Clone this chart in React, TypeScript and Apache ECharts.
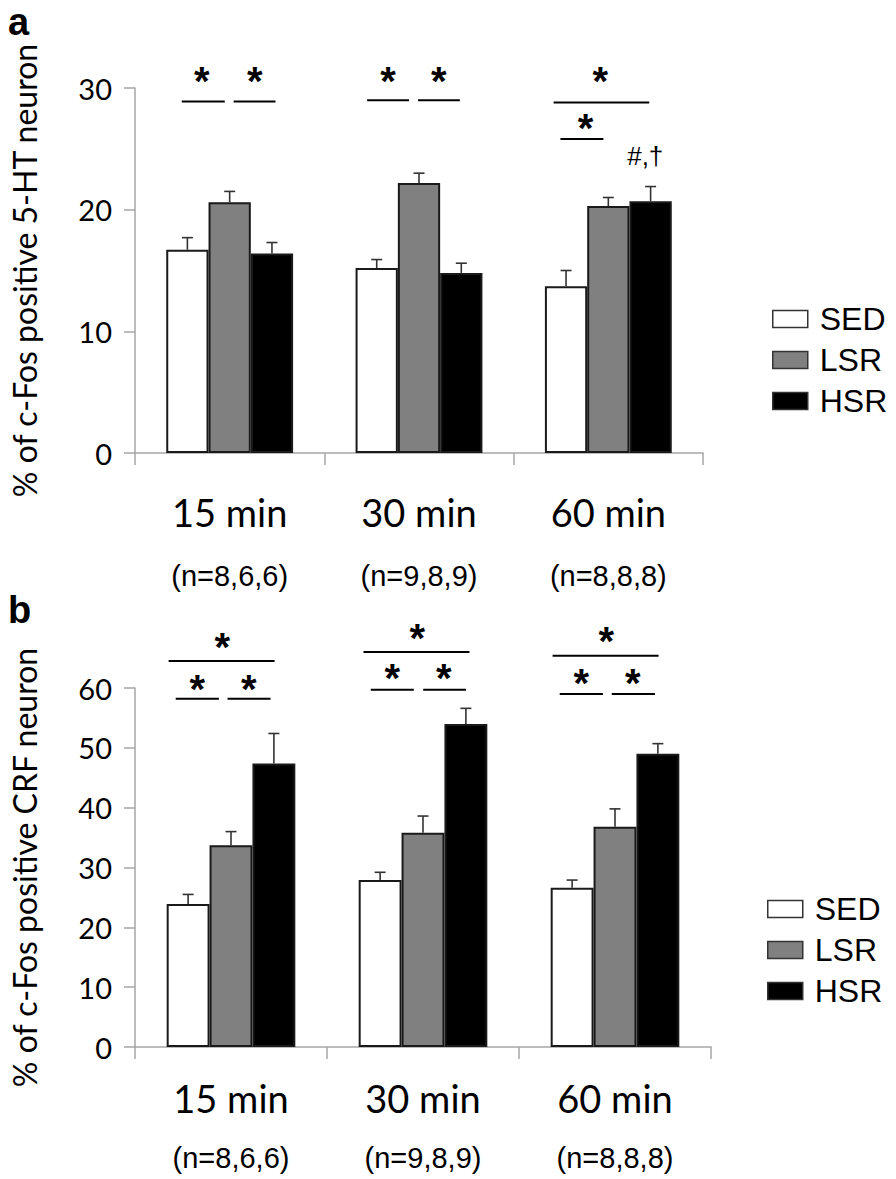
import React, { useEffect, useRef } from "react";
import * as echarts from "echarts";

const categories = ["15 min", "30 min", "60 min"];
const nLabels = ["(n=8,6,6)", "(n=9,8,9)", "(n=8,8,8)"];
const groups = ["SED", "LSR", "HSR"];

// panel a: % of c-Fos positive 5-HT neuron
const aSED = [16.7, 15.2, 13.7];
const aSEDErr = [1.0, 0.7, 1.3];
const aLSR = [20.6, 22.2, 20.3];
const aLSRErr = [0.9, 0.8, 0.7];
const aHSR = [16.4, 14.8, 20.7];
const aHSRErr = [0.9, 0.8, 1.2];

// panel b: % of c-Fos positive CRF neuron
const bSED = [23.9, 27.9, 26.6];
const bSEDErr = [1.6, 1.3, 1.3];
const bLSR = [33.7, 35.8, 36.8];
const bLSRErr = [2.3, 2.8, 3.0];
const bHSR = [47.4, 54.0, 49.0];
const bHSRErr = [5.0, 2.6, 1.7];

const aTicks = { min: 0, max: 30, interval: 10 };
const bTicks = { min: 0, max: 60, interval: 10 };

// significance brackets: [category, xStart (band fraction), xEnd, y]
const aSigLines = [
  [0, -0.253, -0.026, 28.9],
  [0, 0.021, 0.242, 28.9],
  [1, -0.274, -0.053, 29.0],
  [1, -0.005, 0.216, 29.0],
  [2, -0.289, 0.216, 28.8],
  [2, -0.253, -0.026, 25.8],
];
const aStars = [
  [0, -0.147, 31.1],
  [0, 0.132, 31.1],
  [1, -0.163, 31.1],
  [1, 0.105, 31.1],
  [2, -0.042, 31.1],
  [2, -0.121, 27.2],
];
const aMarks = [[2, 0.195, 24.4]];
const aMarkText = "#,†";

const bSigLines = [
  [0, -0.325, 0.227, 64.5],
  [0, -0.288, -0.063, 58.2],
  [0, -0.018, 0.206, 58.2],
  [1, -0.31, 0.242, 66.0],
  [1, -0.272, -0.048, 59.7],
  [1, 0.001, 0.224, 59.7],
  [2, -0.325, 0.227, 65.4],
  [2, -0.288, -0.063, 59.0],
  [2, -0.017, 0.208, 59.0],
];
const bStars = [
  [0, -0.046, 67.9],
  [0, -0.175, 60.9],
  [0, 0.092, 60.9],
  [1, -0.03, 69.4],
  [1, -0.16, 62.6],
  [1, 0.108, 62.6],
  [2, -0.046, 68.9],
  [2, -0.175, 61.8],
  [2, 0.092, 61.8],
];

const COLORS = ["#ffffff", "#808080", "#000000"];
const AXIS_COLOR = "#a6a6a6";
const BAR_GAP = 0.33;
const STAR_DY = 6;

function errData(means: number[][], errs: number[][]) {
  const out: number[][] = [];
  means.forEach((m, g) => m.forEach((v, c) => out.push([c, g, v, v + errs[g][c]])));
  return out;
}

function errRender(params: any, api: any) {
  const c = api.value(0);
  const g = api.value(1);
  const m = api.value(2);
  const t = api.value(3);
  const bw = api.size([1, 0])[0];
  const p0 = api.coord([c, m]);
  const p1 = api.coord([c, t]);
  const x = p0[0] + (g - 1) * bw * ((1 - BAR_GAP) / 3);
  const st = { stroke: "#333", lineWidth: 1.6 };
  return {
    type: "group",
    children: [
      { type: "line", shape: { x1: x, y1: p0[1], x2: x, y2: p1[1] }, style: st },
      { type: "line", shape: { x1: x - 5.5, y1: p1[1], x2: x + 5.5, y2: p1[1] }, style: st },
    ],
  };
}

function lineRender(params: any, api: any) {
  const c = api.value(0);
  const bw = api.size([1, 0])[0];
  const p = api.coord([c, api.value(3)]);
  return {
    type: "line",
    shape: { x1: p[0] + api.value(1) * bw, y1: p[1], x2: p[0] + api.value(2) * bw, y2: p[1] },
    style: { stroke: "#000", lineWidth: 2 },
  };
}

function textRender(text: string, font: string, dy: number) {
  return (params: any, api: any) => {
    const c = api.value(0);
    const bw = api.size([1, 0])[0];
    const p = api.coord([c, api.value(2)]);
    return {
      type: "text",
      x: p[0] + api.value(1) * bw,
      y: p[1] + dy,
      style: { text, font, fill: "#000", textAlign: "center", textVerticalAlign: "middle" },
    };
  };
}

function panelSeries(idx: number, means: number[][], errs: number[][], lines: number[][], stars: number[][]) {
  const s: any[] = groups.map((name, g) => ({
    type: "bar",
    name,
    xAxisIndex: idx,
    yAxisIndex: idx,
    data: means[g],
    barGap: "0%",
    barCategoryGap: BAR_GAP * 100 + "%",
    itemStyle: { color: COLORS[g], borderColor: "#1a1a1a", borderWidth: 2 },
    z: 2,
  }));
  s.push({
    type: "custom",
    xAxisIndex: idx,
    yAxisIndex: idx,
    data: errData(means, errs),
    encode: { x: 0, y: 3 },
    renderItem: errRender,
    clip: false,
    z: 3,
  });
  s.push({
    type: "custom",
    xAxisIndex: idx,
    yAxisIndex: idx,
    data: lines,
    encode: { x: 0, y: 3 },
    renderItem: lineRender,
    clip: false,
    z: 4,
  });
  s.push({
    type: "custom",
    xAxisIndex: idx,
    yAxisIndex: idx,
    data: stars,
    encode: { x: 0, y: 2 },
    renderItem: textRender("*", "bold 40px 'Liberation Sans'", STAR_DY),
    clip: false,
    z: 4,
  });
  return s;
}

const App: React.FC = () => {
  const ref = useRef<HTMLDivElement>(null);
  useEffect(() => {
    if (!ref.current) return;
    const chart = echarts.init(ref.current, undefined, { renderer: "svg" });

    const xAxisBase = (margin: number, lh: number) => ({
      type: "category",
      data: categories,
      axisLine: { lineStyle: { color: AXIS_COLOR, width: 1.5 } },
      axisTick: { show: true, length: 12, interval: 0, lineStyle: { color: AXIS_COLOR, width: 1.5 } },
      axisLabel: {
        interval: 0,
        margin,
        formatter: (v: string, i: number) => `{a|${v}}\n{b|${nLabels[i]}}`,
        rich: {
          a: { fontSize: 38, fontFamily: "Lato", color: "#000", lineHeight: lh },
          b: { fontSize: 29, fontFamily: "'Liberation Sans Narrow', 'Liberation Sans'", color: "#000", lineHeight: lh },
        },
      },
    });
    const yAxisBase = (t: any, name: string) => ({
      type: "value",
      min: t.min,
      max: t.max,
      interval: t.interval,
      name,
      nameLocation: "middle",
      nameGap: 95,
      nameRotate: 90,
      nameTextStyle: { fontSize: 32, fontFamily: "Lato", color: "#000" },
      axisLine: { show: true, lineStyle: { color: AXIS_COLOR, width: 1.5 } },
      axisTick: { show: true, length: 11, lineStyle: { color: AXIS_COLOR, width: 1.5 } },
      axisLabel: { fontSize: 29, fontFamily: "Lato", color: "#000", margin: 23 },
      splitLine: { show: false },
    });
    const legendBase = (left: number, top: number) => ({
      left,
      top,
      orient: "vertical",
      data: groups,
      selectedMode: false,
      icon: "rect",
      itemWidth: 35,
      itemHeight: 17,
      itemGap: 9,
      itemStyle: { borderColor: "#333", borderWidth: 1.5 },
      textStyle: { fontSize: 32, fontFamily: "'Liberation Sans'", color: "#000", lineHeight: 30, padding: [0, 0, 0, 7] },
    });

    const series = [
      ...panelSeries(0, [aSED, aLSR, aHSR], [aSEDErr, aLSRErr, aHSRErr], aSigLines, aStars),
      ...panelSeries(1, [bSED, bLSR, bHSR], [bSEDErr, bLSRErr, bHSRErr], bSigLines, bStars),
      {
        type: "custom",
        xAxisIndex: 0,
        yAxisIndex: 0,
        data: aMarks,
        encode: { x: 0, y: 2 },
        renderItem: textRender(aMarkText, "26px 'Liberation Sans'", 0),
        clip: false,
        z: 4,
      },
    ];

    chart.setOption({
      animation: false,
      backgroundColor: "#fff",
      grid: [
        { left: 133, top: 88, width: 570, height: 365 },
        { left: 133, top: 688, width: 578, height: 359 },
      ],
      xAxis: [
        { ...xAxisBase(27, 64), gridIndex: 0 },
        { ...xAxisBase(21, 60), gridIndex: 1 },
      ],
      yAxis: [
        { ...yAxisBase(aTicks, "% of c-Fos positive 5-HT neuron"), gridIndex: 0 },
        { ...yAxisBase(bTicks, "% of c-Fos positive CRF neuron"), gridIndex: 1 },
      ],
      legend: [legendBase(767, 298), legendBase(762, 888)],
      graphic: [
        { type: "text", left: 8, top: 3, style: { text: "a", font: "bold 38px 'Liberation Sans'", fill: "#000" } },
        { type: "text", left: 8, top: 591, style: { text: "b", font: "bold 38px 'Liberation Sans'", fill: "#000" } },
      ],
      series,
    });
    return () => chart.dispose();
  }, []);
  return <div ref={ref} style={{ position: "absolute", left: 0, top: 0, width: 896, height: 1179 }} />;
};

export default App;
